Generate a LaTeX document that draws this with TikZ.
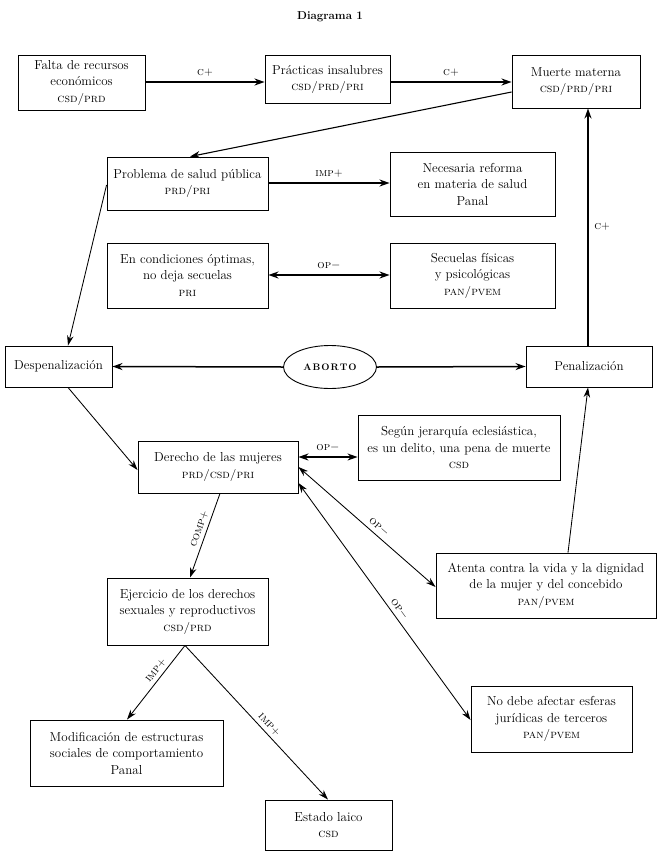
\documentclass[tikz,border=0pt]{standalone}
\usetikzlibrary{arrows.meta,shapes.geometric,calc}
\newcommand{\pty}[1]{{\fontsize{12}{16.5}\selectfont\scshape #1}}
\newcommand{\lbl}[1]{{\fontsize{11.5}{12}\selectfont\scshape #1}}
\begin{document}
\begin{tikzpicture}[x=1pt,y=-1pt,
  box/.style={draw,line width=0.9pt,align=center,inner sep=2pt,font=\fontsize{13}{16.5}\selectfont},
  thk/.style={line width=1.5pt,-{Stealth[length=10pt,width=7pt]}},
  thkd/.style={line width=1.5pt,{Stealth[length=10pt,width=7pt]}-{Stealth[length=10pt,width=7pt]}},
  mid/.style={line width=1.1pt,-{Stealth[length=10pt,width=7pt]}},
  thn/.style={line width=0.85pt,-{Stealth[length=10pt,width=6.5pt]}},
  thnd/.style={line width=0.85pt,{Stealth[length=10pt,width=6.5pt]}-{Stealth[length=10pt,width=6.5pt]}},
  lab/.style={font=\fontsize{11.5}{12}\selectfont, inner sep=1.5pt}
]
\useasboundingbox (0,0) rectangle (661,860);

\node[font=\fontsize{11.5}{14}\selectfont\bfseries] (title) at (330,17) {Diagrama 1};

% boxes
\node[box,minimum width=127pt,minimum height=55pt] (falta) at (81.5,82.5) {Falta de recursos\\económicos\\\pty{csd/prd}};
\node[box,minimum width=125pt,minimum height=48pt] (pract) at (327.5,79.5) {Prácticas insalubres\\\pty{csd/prd/pri}};
\node[box,minimum width=128pt,minimum height=53pt] (muerte) at (576,81.5) {Muerte materna\\\pty{csd/prd/pri}};

\node[box,minimum width=161pt,minimum height=53pt] (problema) at (187.5,183.5) {Problema de salud pública\\\pty{prd/pri}};
\node[box,minimum width=165pt,minimum height=64pt] (necesaria) at (472.5,184) {Necesaria reforma\\en materia de salud\\Panal};

\node[box,minimum width=161pt,minimum height=65pt] (encond) at (187.5,275.5) {En condiciones óptimas,\\no deja secuelas\\\pty{pri}};
\node[box,minimum width=165pt,minimum height=65pt] (secuelas) at (472.5,275.5) {Secuelas físicas\\y psicológicas\\\pty{pan/pvem}};

\node[box,minimum width=107pt,minimum height=41pt] (despen) at (58.5,366.5) {Despenalización};
\node[draw,ellipse,line width=0.9pt,minimum width=93pt,minimum height=43pt,inner sep=0pt,font=\fontsize{9.5}{9.5}\selectfont\bfseries] (aborto) at (330,367) {A\kern1pt B\kern1pt O\kern1pt R\kern1pt T\kern1pt O};
\node[box,minimum width=126pt,minimum height=41pt] (penal) at (589,366.5) {Penalización};

\node[box,minimum width=160pt,minimum height=52pt] (derecho) at (218,467) {Derecho de las mujeres\\\pty{prd/csd/pri}};
\node[box,minimum width=202pt,minimum height=65pt] (segun) at (459,447.5) {Según jerarquía eclesiástica,\\es un delito, una pena de muerte\\\pty{csd}};

\node[box,minimum width=220pt,minimum height=65pt] (atenta) at (546,585.5) {Atenta contra la vida y la dignidad\\de la mujer y del concebido\\\pty{pan/pvem}};
\node[box,minimum width=161pt,minimum height=67pt] (ejerc) at (187.5,611.5) {Ejercicio de los derechos\\sexuales y reproductivos\\\pty{csd/prd}};

\node[box,minimum width=161pt,minimum height=66pt] (nodebe) at (551.5,719) {No debe afectar esferas\\jurídicas de terceros\\\pty{pan/pvem}};
\node[box,minimum width=193pt,minimum height=66pt] (modif) at (126.5,753) {Modificación de estructuras\\sociales de comportamiento\\Panal};
\node[box,minimum width=127pt,minimum height=50pt] (estado) at (328.5,825) {Estado laico\\\pty{csd}};

% connectors
\draw[thk] (falta.east |- 0,82) -- node[lab,above=3pt] {\lbl{c}+} (pract.west |- 0,82);
\draw[thk] (pract.east |- 0,82) -- node[lab,above=3pt] {\lbl{c}+} (muerte.west |- 0,82);
\draw[mid] (muerte.west |- 0,92) -- (problema.north -| 190,0);
\draw[thk] (problema.east |- 0,183) -- node[lab,above=3pt] {\lbl{imp}+} (necesaria.west |- 0,183);
\draw[thkd] (encond.east |- 0,275) -- node[lab,above=3pt] {\lbl{op}$-$} (secuelas.west |- 0,275);
\draw[thn] (problema.west |- 0,185) -- (despen.north -| 68,0);
\draw[thk] (aborto.west) -- (despen.east);
\draw[thk] (aborto.east) -- (penal.west);
\draw[thk] (penal.north -| 588,0) -- node[lab,right=4pt] {\lbl{c}+} (muerte.south -| 588,0);
\draw[thn] (despen.south -| 68,0) -- (derecho.west |- 0,470);
\draw[line width=1.2pt,{Stealth[length=10pt,width=7pt]}-{Stealth[length=10pt,width=7pt]}] (derecho.east |- 0,457) -- node[lab,above=3pt] {\lbl{op}$-$} (segun.west |- 0,457);
\draw[thnd] (derecho.east |- 0,467) -- node[lab,sloped,above=2pt,pos=0.55] {\lbl{op}$-$} (atenta.west |- 0,587);
\draw[thnd] (derecho.east |- 0,483) -- node[lab,sloped,above=2pt,pos=0.55] {\lbl{op}$-$} (nodebe.west |- 0,720);
\draw[thn] (atenta.north -| 568,0) -- (penal.south -| 588,0);
\draw[thn] (derecho.south -| 220,0) -- node[lab,sloped,above=2pt,pos=0.45] {\lbl{comp}+} (ejerc.north -| 190,0);
\draw[thn] (ejerc.south -| 185,0) -- node[lab,sloped,above=2pt,pos=0.4] {\lbl{imp}+} (modif.north -| 127,0);
\draw[thn] (ejerc.south -| 185,0) -- node[lab,sloped,above=2pt,pos=0.55] {\lbl{imp}+} (estado.north -| 328,0);
\end{tikzpicture}
\end{document}
